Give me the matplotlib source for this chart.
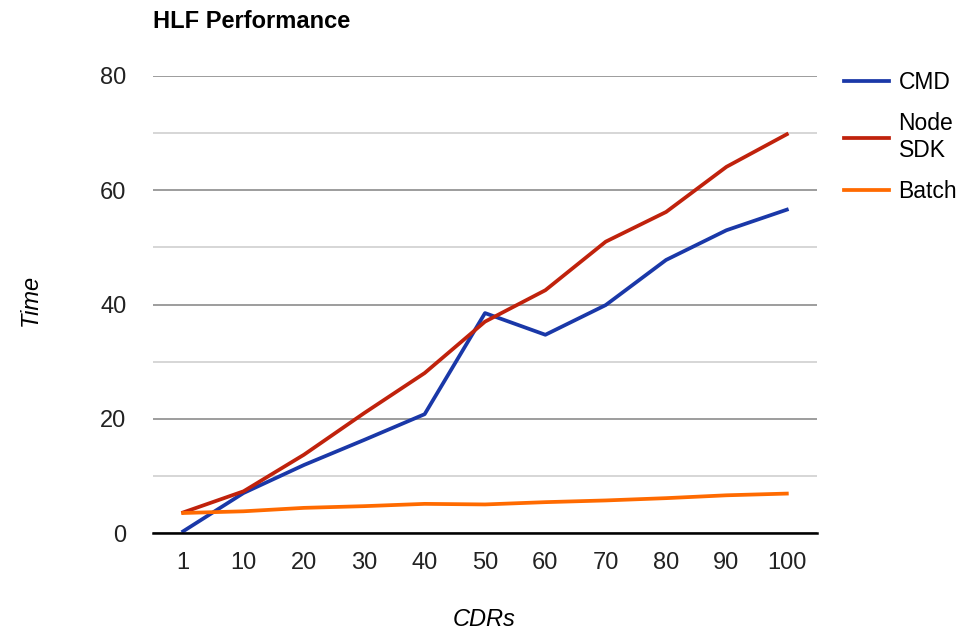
import matplotlib.pyplot as plt
from matplotlib.ticker import MultipleLocator

plt.rcParams['font.family'] = ['Liberation Sans', 'DejaVu Sans']

cdrs = ["1", "10", "20", "30", "40", "50", "60", "70", "80", "90", "100"]
cmd = [0.3, 7.0, 11.9, 16.3, 20.8, 38.5, 34.7, 39.9, 47.8, 53.0, 56.6]
node_sdk = [3.6, 7.3, 13.7, 21.0, 28.0, 37.0, 42.5, 51.0, 56.2, 64.1, 69.8]
batch = [3.5, 3.8, 4.4, 4.7, 5.1, 5.0, 5.4, 5.7, 6.1, 6.6, 6.9]

fig = plt.figure(figsize=(9.62, 6.35), dpi=100)
ax = fig.add_axes([153 / 962, 1 - 533 / 635, 664 / 962, 457 / 635])

x = range(len(cdrs))
ax.plot(x, cmd, color="#1a38a8", lw=2.7, label="CMD")
ax.plot(x, node_sdk, color="#c0220c", lw=2.7, label="Node\nSDK")
ax.plot(x, batch, color="#ff6a00", lw=2.7, label="Batch")

ax.set_xlim(-0.5, len(cdrs) - 0.5)
ax.set_ylim(0, 80)
ax.set_xticks(list(x))
ax.set_xticklabels(cdrs)
ax.yaxis.set_major_locator(MultipleLocator(20))
ax.yaxis.set_minor_locator(MultipleLocator(10))
ax.grid(True, which="major", axis="y", color="#8c8c8c", lw=1.2)
ax.grid(True, which="minor", axis="y", color="#d0d0d0", lw=1.2)
ax.set_axisbelow(True)
for s in ["top", "right", "left"]:
    ax.spines[s].set_visible(False)
ax.spines["bottom"].set_color("black")
ax.spines["bottom"].set_linewidth(1.8)
ax.tick_params(axis="both", which="both", length=0, labelsize=17, colors="#222222")
ax.tick_params(axis="x", pad=14)
ax.tick_params(axis="y", pad=19)

fig.text(153 / 962, 1 - 22 / 635, "HLF Performance", fontsize=17, fontweight="bold",
         va="center", ha="left")
fig.text(30 / 962, 1 - 300 / 635, "Time", fontsize=17, style="italic", rotation=90,
         va="center", ha="center")
fig.text(484 / 962, 1 - 620 / 635, "CDRs", fontsize=17, style="italic",
         va="center", ha="center")

# legend sits to the right of the plot, top aligned with the 80 line
ax.legend(loc="upper left", bbox_to_anchor=(823 / 962, 1 - 50 / 635),
          bbox_transform=fig.transFigure, frameon=False, fontsize=16.5,
          handlelength=2.0, handletextpad=0.4, labelspacing=0.8)

plt.savefig("out.png", dpi=100)
